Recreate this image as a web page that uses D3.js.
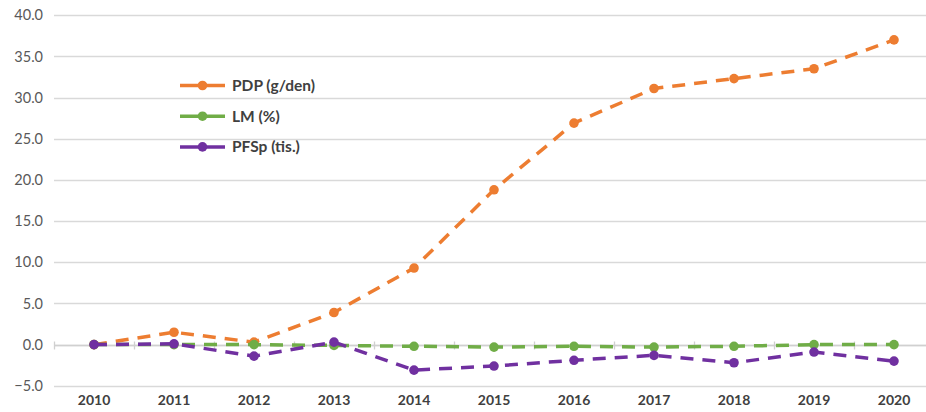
<!DOCTYPE html>
<html>
<head>
<meta charset="utf-8">
<script src="https://cdn.jsdelivr.net/npm/d3@7/dist/d3.min.js"></script>
<style>
  html, body { margin: 0; padding: 0; background: #fff; }
  svg { display: block; }
</style>
</head>
<body>
<svg id="chart" width="926" height="412"></svg>
<script>
const years = ["2010","2011","2012","2013","2014","2015","2016","2017","2018","2019","2020"];
const pdp  = [0.0, 1.5, 0.3, 3.9, 9.3, 18.8, 26.9, 31.1, 32.3, 33.5, 37.0];
const lm   = [0.0, 0.0, 0.0, -0.1, -0.2, -0.3, -0.2, -0.3, -0.2, 0.0, 0.0];
const pfsp = [0.0, 0.1, -1.4, 0.3, -3.1, -2.6, -1.9, -1.3, -2.2, -0.9, -2.0];
const yTicks = [-5, 0, 5, 10, 15, 20, 25, 30, 35, 40];
const seriesNames = ["PDP (g/den)", "LM (%)", "PFSp (tis.)"];
const seriesColors = ["#ED7D31", "#70AD47", "#7030A0"];

(function () {
const series = [pdp, lm, pfsp].map((v, i) => ({ name: seriesNames[i], color: seriesColors[i], values: v }));

const svg = d3.select("#chart");
const pLeft = 54, pRight = 934, pTop = 15.2, pBottom = 385.8;

const x = d3.scaleBand().domain(years).range([pLeft, pRight]);
const y = d3.scaleLinear().domain([-5, 40]).range([pBottom, pTop]);

const font = "Lato, 'Open Sans', sans-serif";

// gridlines
svg.append("g").selectAll("line").data(yTicks).join("line")
  .attr("x1", pLeft).attr("x2", pRight)
  .attr("y1", d => Math.round(y(d)) + 0.5).attr("y2", d => Math.round(y(d)) + 0.5)
  .attr("stroke", "#D9D9D9").attr("stroke-width", 1.3);

// y-axis labels
const yAxis = d3.axisLeft(y).tickValues(yTicks).tickFormat(d3.format(".1f")).tickSize(0).tickPadding(0);
const yg = svg.append("g").attr("transform", `translate(43,0)`).call(yAxis);
yg.select(".domain").remove();
yg.selectAll("text").attr("fill", "#595959").style("font-family", font).style("font-size", "14.5px");

// category axis along zero line with cross ticks
const zeroY = Math.round(y(0)) + 0.5;
svg.append("line").attr("x1", pLeft).attr("x2", pRight).attr("y1", zeroY).attr("y2", zeroY)
  .attr("stroke", "#D0D0D0").attr("stroke-width", 1.3);
const bounds = years.map(d => x(d)).concat([x(years[years.length-1]) + x.bandwidth()]);
svg.append("g").selectAll("line").data(bounds).join("line")
  .attr("x1", d => Math.round(d) + 0.5).attr("x2", d => Math.round(d) + 0.5)
  .attr("y1", zeroY - 4).attr("y2", zeroY + 4)
  .attr("stroke", "#D0D0D0").attr("stroke-width", 1.3);

// x labels at bottom
const xAxis = d3.axisBottom(x).tickSize(0).tickPadding(0);
const xg = svg.append("g").attr("transform", `translate(0,400)`).call(xAxis);
xg.select(".domain").remove();
xg.selectAll("text").attr("fill", "#404040").attr("dy", "0.35em")
  .style("font-family", font).style("font-size", "14px").style("font-weight", "bold");

// lines & markers
const cx = d => x(d) + x.bandwidth() / 2;
const line = d3.line().x((d, i) => cx(years[i])).y(d => y(d));
series.forEach(s => {
  const g = svg.append("g");
  g.append("path").datum(s.values).attr("d", line)
    .attr("fill", "none").attr("stroke", s.color).attr("stroke-width", 3.5)
    .attr("stroke-dasharray", "13,9");
  g.selectAll("circle").data(s.values).join("circle")
    .attr("cx", (d, i) => cx(years[i])).attr("cy", d => y(d)).attr("r", 4.8)
    .attr("fill", s.color);
});

// legend
const legend = svg.append("g");
series.forEach((s, i) => {
  const ly = 85.5 + i * 30.7;
  const g = legend.append("g");
  g.append("line").attr("x1", 180).attr("x2", 225).attr("y1", ly).attr("y2", ly)
    .attr("stroke", s.color).attr("stroke-width", 3.5);
  g.append("circle").attr("cx", 202.5).attr("cy", ly).attr("r", 4.8).attr("fill", s.color);
  g.append("text").attr("x", 232).attr("y", ly).attr("dy", "0.35em")
    .attr("fill", "#404040").style("font-family", font).style("font-size", "15.5px").style("font-weight", "bold")
    .text(s.name);
});
})();
</script>
</body>
</html>
